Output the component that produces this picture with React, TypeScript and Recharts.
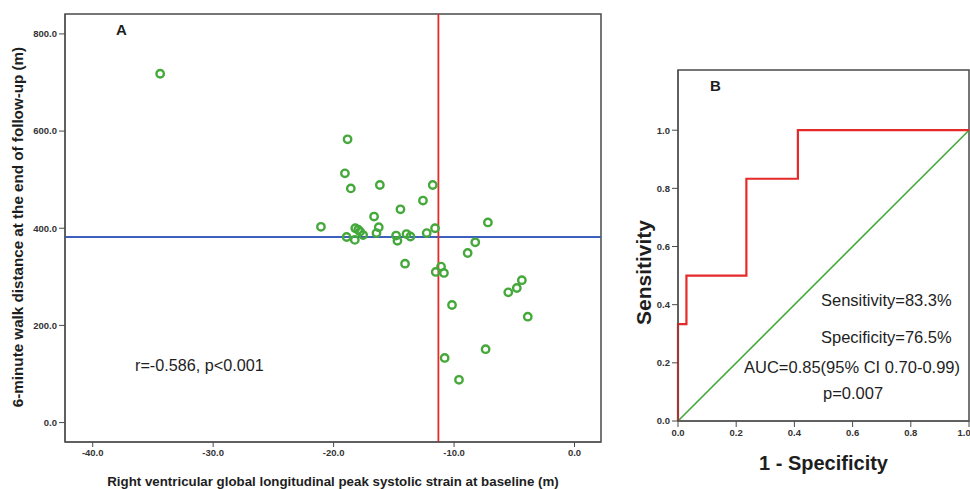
import React from "react";
import {
  ScatterChart,
  Scatter,
  LineChart,
  Line,
  XAxis,
  YAxis,
  ReferenceLine,
  ReferenceArea,
} from "recharts";

// panel A: RV GLS at baseline vs 6MWD at end of follow-up
const strainX = [
  -34.4, -18.84, -19.06, -18.57, -16.16, -11.77, -12.58, -14.45, -16.64, -21.05,
  -16.25, -7.19, -11.58, -18.2, -17.96, -17.8, -17.55, -18.92, -18.24, -16.44,
  -14.81, -14.7, -13.95, -13.62, -12.27, -8.24, -8.87, -14.07, -11.08, -11.52,
  -10.84, -4.37, -4.79, -5.5, -10.17, -3.88, -7.38, -10.78, -9.59,
];
const walkY = [
  718, 583, 513, 482, 489, 489, 457, 439, 424, 403,
  402, 412, 400, 400, 397, 393, 386, 382, 376, 390,
  385, 374, 388, 383, 390, 371, 349, 327, 321, 310,
  308, 293, 277, 268, 242, 218, 151, 133, 88,
];
const strainTicks = [-40, -30, -20, -10, 0];
const walkTicks = [0, 200, 400, 600, 800];
const walkMedian = 382;
const strainCutoff = -11.3;

// panel B: ROC curve
const rocFpr = [0, 0, 0.029, 0.029, 0.235, 0.235, 0.412, 0.412, 1];
const rocTpr = [0, 0.333, 0.333, 0.5, 0.5, 0.833, 0.833, 1, 1];
const chanceFpr = [0, 1];
const chanceTpr = [0, 1];
const rocTicks = [0, 0.2, 0.4, 0.6, 0.8, 1];

const scatterData = strainX.map((x, i) => ({ x, y: walkY[i] }));
const rocData = rocFpr.map((x, i) => ({ x, y: rocTpr[i] }));
const chanceData = chanceFpr.map((x, i) => ({ x, y: chanceTpr[i] }));

const GREEN = "#44a83a";
const RED = "#e62a2a";
const BLUE = "#3d5fc0";
const FRAME = "#4a4a4a";
const SANS = "'Liberation Sans', Arial, sans-serif";
const TEXT = "#1e1e1e";

const tickStyle = { fontFamily: SANS, fontSize: 9.5, fontWeight: 700, fill: "#333" };
const fmt1 = (v: number) => v.toFixed(1);

const Ring = (props: any) => {
  const { cx, cy } = props;
  return <circle cx={cx} cy={cy} r={3.7} fill="none" stroke={GREEN} strokeWidth={2.4} />;
};

// rotated y-axis title, nudged from the axis box
const sideTitle = (text: string, dx: number, dy: number, size: number) => (p: any) => {
  const vb = p.viewBox;
  const x = vb.x + dx;
  const y = vb.y + vb.height / 2 + dy;
  return (
    <text
      x={x}
      y={y}
      transform={`rotate(-90 ${x} ${y})`}
      textAnchor="middle"
      dominantBaseline="central"
      fontFamily={SANS}
      fontSize={size}
      fontWeight={700}
      fill={TEXT}
    >
      {text}
    </text>
  );
};

const note = (left: number, top: number, size: number, bold = false): React.CSSProperties => ({
  position: "absolute",
  left,
  top,
  fontFamily: SANS,
  fontSize: size,
  fontWeight: bold ? 700 : 400,
  lineHeight: `${size + 2}px`,
  color: TEXT,
  whiteSpace: "nowrap",
});

export default function App() {
  return (
    <div style={{ position: "absolute", left: 0, top: 0, width: 970, height: 489, background: "#fff" }}>
      <div style={{ position: "absolute", left: 0, top: 0 }}>
        <ScatterChart width={610} height={489} margin={{ top: 14, right: 9, bottom: 0, left: 0 }}>
          <XAxis
            type="number"
            dataKey="x"
            domain={[-42.3, 2.2]}
            ticks={strainTicks}
            tickFormatter={fmt1}
            tick={tickStyle}
            tickSize={5}
            tickMargin={2}
            height={47}
            stroke={FRAME}
            label={{
              value: "Right ventricular global longitudinal peak systolic strain at baseline (m)",
              position: "insideBottom",
              offset: 3,
              style: { fontFamily: SANS, fontSize: 13.3, fontWeight: 700, fill: TEXT },
            }}
          />
          <YAxis
            type="number"
            dataKey="y"
            domain={[-40, 841]}
            ticks={walkTicks}
            tickFormatter={fmt1}
            tick={tickStyle}
            tickSize={6}
            tickMargin={2}
            width={65}
            stroke={FRAME}
            label={{ content: sideTitle("6-minute walk distance at the end of follow-up (m)", 17, -1, 15.2) }}
          />
          <ReferenceArea x1={-42.3} x2={2.2} y1={-40} y2={841} fill="none" stroke={FRAME} strokeWidth={1.5} />
          <ReferenceLine y={walkMedian} stroke={BLUE} strokeWidth={1.8} />
          <ReferenceLine x={strainCutoff} stroke={RED} strokeWidth={1.8} />
          <Scatter data={scatterData} shape={Ring} isAnimationActive={false} />
        </ScatterChart>
      </div>

      <div style={{ position: "absolute", left: 610, top: 0 }}>
        <LineChart width={360} height={489} margin={{ top: 70, right: 1, bottom: 0, left: 0 }}>
          <XAxis
            type="number"
            dataKey="x"
            domain={[0, 1]}
            ticks={rocTicks}
            tickFormatter={fmt1}
            tick={tickStyle}
            tickSize={6}
            tickMargin={2}
            height={68}
            stroke={FRAME}
            label={{
              value: "1 - Specificity",
              position: "insideBottom",
              offset: 19,
              style: { fontFamily: SANS, fontSize: 20, fontWeight: 700, fill: TEXT },
            }}
          />
          <YAxis
            type="number"
            dataKey="y"
            domain={[0, 1.207]}
            ticks={rocTicks}
            tickFormatter={fmt1}
            tick={tickStyle}
            tickSize={6}
            tickMargin={2}
            width={68}
            stroke={FRAME}
            label={{ content: sideTitle("Sensitivity", 33, 27, 21) }}
          />
          <ReferenceArea x1={0} x2={1} y1={0} y2={1.207} fill="none" stroke={FRAME} strokeWidth={1.5} />
          <Line data={chanceData} dataKey="y" type="linear" stroke={GREEN} strokeWidth={1.6} dot={false} isAnimationActive={false} />
          <Line data={rocData} dataKey="y" type="linear" stroke={RED} strokeWidth={2.2} dot={false} isAnimationActive={false} />
        </LineChart>
      </div>

      <div style={note(116, 21, 15, true)}>A</div>
      <div style={note(135, 356, 16.2)}>r=-0.586, p&lt;0.001</div>
      <div style={note(710, 77, 15, true)}>B</div>
      <div style={note(821, 291, 16.5)}>Sensitivity=83.3%</div>
      <div style={note(821, 328, 16.5)}>Specificity=76.5%</div>
      <div style={note(744, 358, 16.5)}>AUC=0.85(95% CI 0.70-0.99)</div>
      <div style={note(823, 384, 16.5)}>p=0.007</div>
    </div>
  );
}
